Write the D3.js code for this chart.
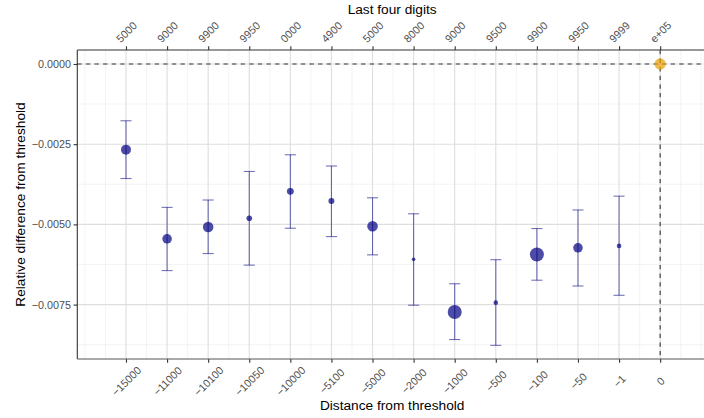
<!DOCTYPE html>
<html>
<head>
<meta charset="utf-8">
<script src="https://cdn.jsdelivr.net/npm/d3@7"></script>
<style>
  body { margin: 0; background: #fff; }
  svg { display: block; font-family: "Liberation Sans", Arial, sans-serif; }
</style>
</head>
<body>
<div id="chart"></div>
<script>
// chart data
const distanceLabels = ["\u221215000", "\u221211000", "\u221210100", "\u221210050", "\u221210000", "\u22125100",
    "\u22125000", "\u22122000", "\u22121000", "\u2212500", "\u2212100", "\u221250", "\u22121", "0"];
const digitLabels = ["5000", "9000", "9900", "9950", "0000", "4900", "5000",
    "8000", "9000", "9500", "9900", "9950", "9999", "e+05"];
const estimates = [-0.00267, -0.00545, -0.00508, -0.00481, -0.00397, -0.00427, -0.00506,
    -0.00609, -0.00773, -0.00744, -0.00594, -0.00573, -0.00567, 0];
const upper = [-0.00177, -0.00447, -0.00424, -0.00335, -0.00283, -0.00318, -0.00417,
    -0.00467, -0.00685, -0.00610, -0.00513, -0.00455, -0.00412, null];
const lower = [-0.00357, -0.00644, -0.00591, -0.00627, -0.00512, -0.00538, -0.00595,
    -0.00752, -0.00859, -0.00877, -0.00674, -0.00692, -0.00721, null];
const weights = [25, 23, 28, 8, 12, 9, 28, 3.2, 49, 5.3, 49, 23, 5.3, 32];
const yTicks = [0, -0.0025, -0.005, -0.0075];

const data = estimates.map((e, i) => ({
    pos: i + 1,
    est: e,
    lo: lower[i],
    hi: upper[i],
    w: weights[i],
    ref: i === estimates.length - 1
}));

const W = 704, H = 418;
const margin = {top: 50, right: -3, bottom: 59, left: 77.3};
const width = W - margin.left - margin.right,
    height = H - margin.top - margin.bottom;

const svg = d3.select('#chart').append('svg')
    .attr('width', W)
    .attr('height', H);

const g = svg.append('g')
    .attr('transform', 'translate(' + margin.left + ',' + margin.top + ')');

const x = d3.scaleLinear().domain([-0.185, 15.14]).range([0, width]);
const y = d3.scaleLinear().domain([0.000436, -0.009196]).range([0, height]);
const r = d3.scaleSqrt().domain([0, 49]).range([0, 7]);

const majorX = d3.range(1, 15);
const minorX = d3.range(0, 15.5, 0.5).filter(v => !Number.isInteger(v) || v === 0 || v === 15);
const minorY = [-0.00125, -0.00375, -0.00625, -0.00875];

// grid
g.selectAll('.minx').data(minorX).enter().append('line')
    .attr('x1', d => x(d)).attr('x2', d => x(d))
    .attr('y1', 0).attr('y2', height)
    .attr('stroke', '#ededed').attr('stroke-width', 0.6);
g.selectAll('.miny').data(minorY).enter().append('line')
    .attr('x1', 0).attr('x2', width)
    .attr('y1', d => y(d)).attr('y2', d => y(d))
    .attr('stroke', '#ededed').attr('stroke-width', 0.6);
g.selectAll('.majx').data(majorX).enter().append('line')
    .attr('x1', d => x(d)).attr('x2', d => x(d))
    .attr('y1', 0).attr('y2', height)
    .attr('stroke', '#dedede').attr('stroke-width', 1.1);
g.selectAll('.majy').data(yTicks).enter().append('line')
    .attr('x1', 0).attr('x2', width)
    .attr('y1', d => y(d)).attr('y2', d => y(d))
    .attr('stroke', '#dedede').attr('stroke-width', 1.1);

// reference dashed lines
g.append('line')
    .attr('x1', 0).attr('x2', width)
    .attr('y1', y(0)).attr('y2', y(0))
    .attr('stroke', '#333').attr('stroke-width', 1.1)
    .attr('stroke-dasharray', '4.3,4.3');
g.append('line')
    .attr('x1', x(14)).attr('x2', x(14))
    .attr('y1', 0).attr('y2', height)
    .attr('stroke', '#333').attr('stroke-width', 1.1)
    .attr('stroke-dasharray', '4.3,4.3');

// error bars
const bars = data.filter(d => d.lo !== null);
const capHalf = 0.135;
const eb = g.selectAll('.eb').data(bars).enter().append('g')
    .attr('stroke', 'navy').attr('stroke-opacity', 0.55).attr('stroke-width', 1.1);
eb.append('line')
    .attr('x1', d => x(d.pos)).attr('x2', d => x(d.pos))
    .attr('y1', d => y(d.hi)).attr('y2', d => y(d.lo));
eb.append('line')
    .attr('x1', d => x(d.pos - capHalf)).attr('x2', d => x(d.pos + capHalf))
    .attr('y1', d => y(d.hi)).attr('y2', d => y(d.hi));
eb.append('line')
    .attr('x1', d => x(d.pos - capHalf)).attr('x2', d => x(d.pos + capHalf))
    .attr('y1', d => y(d.lo)).attr('y2', d => y(d.lo));

// points
g.selectAll('.pt').data(data).enter().append('circle')
    .attr('cx', d => x(d.pos))
    .attr('cy', d => y(d.est))
    .attr('r', d => r(d.w))
    .attr('fill', d => d.ref ? '#E69F00' : 'navy')
    .attr('fill-opacity', 0.7);

// axes
const axisColor = '#333';
const tickText = '#4d4d4d';

const yAxis = g.append('g')
    .call(d3.axisLeft(y).tickValues(yTicks).tickFormat(d3.format('.4f')).tickSize(3.7).tickPadding(2.5));
const xAxisB = g.append('g')
    .attr('transform', 'translate(0,' + height + ')')
    .call(d3.axisBottom(x).tickValues(majorX).tickFormat(d => distanceLabels[d - 1]).tickSize(3.7));
const xAxisT = g.append('g')
    .call(d3.axisTop(x).tickValues(majorX).tickFormat(d => digitLabels[d - 1]).tickSize(3.7));

[yAxis, xAxisB, xAxisT].forEach(a => {
    a.select('.domain').remove();
    a.selectAll('.tick line').attr('stroke', axisColor).attr('stroke-width', 1.1);
    a.selectAll('.tick text').attr('fill', tickText)
        .style('font-size', '10.8px')
        .style('font-family', '"Liberation Sans", Arial, sans-serif');
});
yAxis.selectAll('.tick text').text(d => d3.format('.4f')(d).replace('-', '\u2212'));

xAxisB.selectAll('.tick text')
    .attr('y', 0).attr('dy', '0.35em')
    .attr('text-anchor', 'middle')
    .attr('transform', 'translate(0,22.2) rotate(-45)');
xAxisT.selectAll('.tick text')
    .attr('y', 0).attr('dy', '0.35em')
    .attr('text-anchor', 'middle')
    .attr('transform', 'translate(0,-18) rotate(-45)');

// axis lines
g.append('line').attr('x1', 0).attr('x2', 0).attr('y1', 0).attr('y2', height)
    .attr('stroke', axisColor).attr('stroke-width', 1.1);
g.append('line').attr('x1', 0).attr('x2', width).attr('y1', 0).attr('y2', 0)
    .attr('stroke', axisColor).attr('stroke-width', 1.1);
g.append('line').attr('x1', 0).attr('x2', width).attr('y1', height).attr('y2', height)
    .attr('stroke', '#555').attr('stroke-width', 1.1);

// titles
svg.append('text')
    .attr('x', margin.left + width / 2).attr('y', 14)
    .attr('text-anchor', 'middle')
    .style('font-size', '13.7px')
    .text('Last four digits');
svg.append('text')
    .attr('x', margin.left + width / 2).attr('y', 410)
    .attr('text-anchor', 'middle')
    .style('font-size', '13.7px')
    .text('Distance from threshold');
svg.append('text')
    .attr('transform', 'translate(25,' + (margin.top + height / 2) + ') rotate(-90)')
    .attr('text-anchor', 'middle')
    .style('font-size', '13.7px')
    .text('Relative difference from threshold');
</script>
</body>
</html>
